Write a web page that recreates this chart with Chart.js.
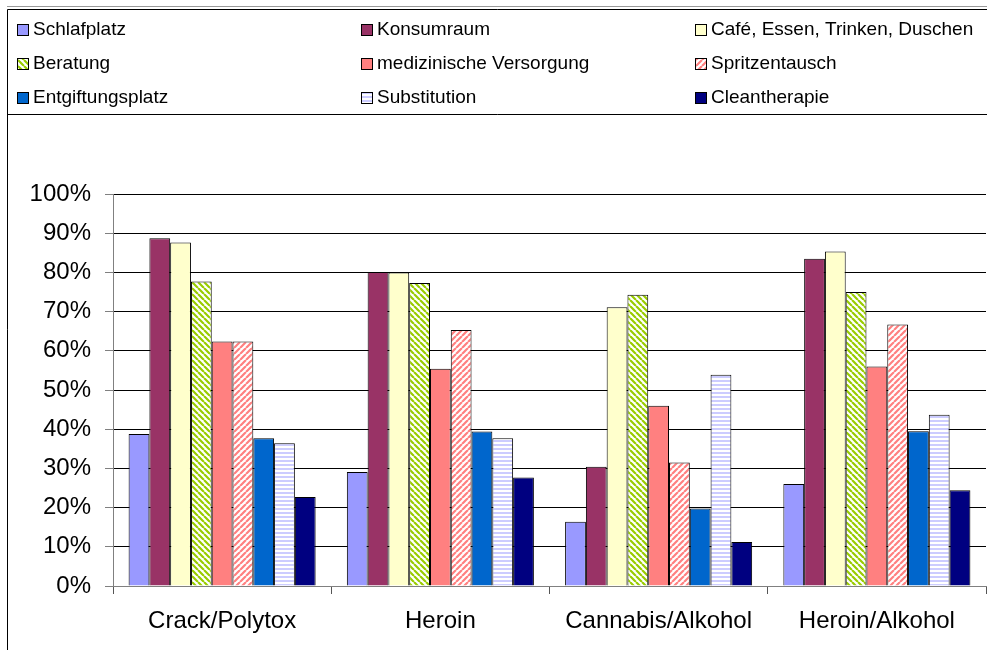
<!DOCTYPE html>
<html>
<head>
<meta charset="utf-8">
<script src="https://cdn.jsdelivr.net/npm/chart.js@4.4.1/dist/chart.umd.min.js"></script>
<style>
  html, body { margin: 0; padding: 0; background: #fff; }
  #wrap { width: 987px; height: 650px; }
</style>
</head>
<body>
<div id="wrap"><canvas id="chart"></canvas></div>
<script>
// data (percent)
const categories = ['Crack/Polytox', 'Heroin', 'Cannabis/Alkohol', 'Heroin/Alkohol'];
const seriesNames = ['Schlafplatz', 'Konsumraum', 'Café, Essen, Trinken, Duschen',
  'Beratung', 'medizinische Versorgung', 'Spritzentausch',
  'Entgiftungsplatz', 'Substitution', 'Cleantherapie'];
const schlafplatz  = [38.8, 29.1, 16.4, 26.0];
const konsumraum   = [88.7, 80.1, 30.4, 83.5];
const cafe         = [87.6, 80.0, 71.1, 85.3];
const beratung     = [77.7, 77.3, 74.3, 75.0];
const medizin      = [62.4, 55.4, 46.0, 56.0];
const spritzen     = [62.4, 65.3, 31.5, 66.7];
const entgiftung   = [37.7, 39.4, 19.8, 39.5];
const substitution = [36.4, 37.7, 53.9, 43.7];
const clean        = [22.7, 27.7, 11.2, 24.4];
const yMin = 0, yMax = 100, yStep = 10;

// hatch patterns like the old excel fills
function diagPattern(color, up) {
  const c = document.createElement('canvas');
  c.width = 6; c.height = 6;
  const x = c.getContext('2d');
  x.fillStyle = '#fff';
  x.fillRect(0, 0, 6, 6);
  x.strokeStyle = color;
  x.lineWidth = 2.2;
  x.beginPath();
  for (let k = -6; k <= 12; k += 6) {
    if (up) { x.moveTo(k, 6); x.lineTo(k + 6, 0); }
    else { x.moveTo(k, 0); x.lineTo(k + 6, 6); }
  }
  x.stroke();
  return x.createPattern(c, 'repeat');
}
function horizPattern(color) {
  const c = document.createElement('canvas');
  c.width = 4; c.height = 4;
  const x = c.getContext('2d');
  x.fillStyle = '#fff';
  x.fillRect(0, 0, 4, 4);
  x.fillStyle = color;
  x.fillRect(0, 0, 4, 2);
  return x.createPattern(c, 'repeat');
}

const fills = ['#9999FF', '#993366', '#FFFFCC', diagPattern('#99CC00', false), '#FF8080',
  diagPattern('#FF8080', true), '#0066CC', horizPattern('#CCCCFF'), '#000080'];
const values = [schlafplatz, konsumraum, cafe, beratung, medizin, spritzen, entgiftung, substitution, clean];

const datasets = values.map(function (v, i) {
  return {
    label: seriesNames[i],
    data: v,
    backgroundColor: fills[i],
    borderColor: '#000',
    borderWidth: 1,
    barPercentage: 1,
    categoryPercentage: 0.857
  };
});

// frame + 3 column legend drawn by hand
const frameLegend = {
  id: 'frameLegend',
  beforeDraw(chart) {
    const ctx = chart.ctx;
    ctx.save();
    ctx.fillStyle = '#fff';
    ctx.fillRect(0, 0, chart.width, chart.height);
    ctx.restore();
  },
  afterDraw(chart) {
    const ctx = chart.ctx;
    ctx.save();
    ctx.strokeStyle = '#999';
    ctx.lineWidth = 1;
    ctx.beginPath();
    ctx.moveTo(7, 6.5); ctx.lineTo(987, 6.5);
    ctx.stroke();
    ctx.strokeStyle = '#000';
    ctx.beginPath();
    ctx.moveTo(7.5, 9.5); ctx.lineTo(987, 9.5);
    ctx.moveTo(7.5, 9.5); ctx.lineTo(7.5, 650);
    ctx.moveTo(7.5, 114.5); ctx.lineTo(987, 114.5);
    ctx.stroke();

    const colX = [17, 361, 695];
    const rowY = [29, 63, 97];
    ctx.font = '19px "Liberation Sans", Arial, sans-serif';
    ctx.textBaseline = 'middle';
    chart.data.datasets.forEach(function (ds, i) {
      const x = colX[i % 3], y = rowY[Math.floor(i / 3)];
      ctx.fillStyle = ds.backgroundColor;
      ctx.fillRect(x, y - 5, 11, 11);
      ctx.strokeStyle = '#000';
      ctx.strokeRect(x + 0.5, y - 4.5, 11, 11);
      ctx.fillStyle = '#000';
      ctx.fillText(ds.label, x + 16, y + 1);
    });
    ctx.restore();
  }
};

new Chart(document.getElementById('chart'), {
  type: 'bar',
  data: { labels: categories, datasets: datasets },
  options: {
    responsive: true,
    maintainAspectRatio: false,
    animation: false,
    layout: { padding: { top: 194, right: 1, left: 0, bottom: 0 } },
    plugins: {
      legend: { display: false },
      tooltip: { enabled: false }
    },
    scales: {
      x: {
        grid: { offset: true, drawOnChartArea: false, drawTicks: true, tickLength: 8, color: '#555' },
        border: { color: '#808080', width: 1 },
        ticks: { color: '#000', padding: 13, font: { family: '"Liberation Sans", Arial, sans-serif', size: 24 } },
        afterFit(scale) { scale.height = 64; }
      },
      y: {
        min: yMin,
        max: yMax,
        grid: { color: '#000', tickColor: '#808080', tickLength: 8 },
        border: { color: '#808080', width: 1 },
        ticks: {
          stepSize: yStep,
          padding: 14,
          color: '#000',
          font: { family: '"Liberation Sans", Arial, sans-serif', size: 24 },
          callback: function (v) { return v + '%'; }
        },
        afterFit(scale) { scale.width = 113; }
      }
    }
  },
  plugins: [frameLegend]
});
</script>
</body>
</html>
